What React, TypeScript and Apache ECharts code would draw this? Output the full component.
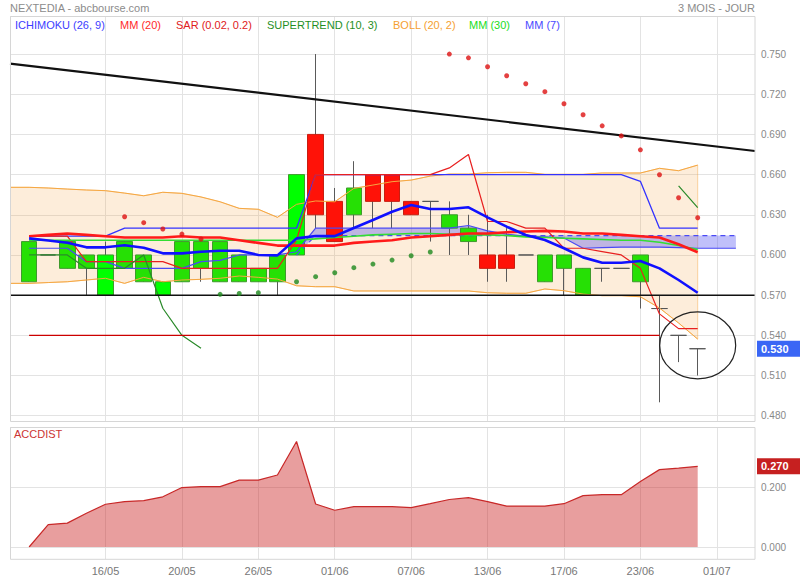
import React, { useEffect, useRef } from 'react';
import * as echarts from 'echarts';

const _ = null;
const FONT = 'Arial, "Liberation Sans", sans-serif';
const GRID_C = '#e3e3e3';

// category axis: one slot per trading day (first and last slots are margins)
const dates = ['09/05','10/05','11/05','12/05','13/05','16/05','17/05','18/05','19/05','20/05','23/05','24/05','25/05','26/05','27/05','30/05','31/05','01/06','02/06','03/06','06/06','07/06','08/06','09/06','10/06','13/06','14/06','15/06','16/06','17/06','20/06','21/06','22/06','23/06','24/06','27/06','28/06','01/07','04/07','05/07'];

// candles start on dates[1]
const firstCandle = 1;
const opens  = [0.58,0.60,0.59,0.59,0.57,0.59,0.58,0.57,0.58,0.59,0.58,0.58,0.58,0.58,0.60,0.69,0.64,0.63,0.66,0.66,0.64,0.64,0.62,0.61,0.60,0.60,0.60,0.58,0.59,0.57,0.59,0.59,0.58,0.56,0.54,0.53];
const closes = [0.61,0.60,0.61,0.60,0.60,0.61,0.60,0.58,0.61,0.61,0.61,0.60,0.59,0.60,0.66,0.63,0.61,0.65,0.64,0.64,0.63,0.64,0.63,0.62,0.59,0.59,0.60,0.60,0.60,0.59,0.59,0.59,0.60,0.56,0.54,0.53];
const lows   = [0.58,0.60,0.59,0.57,0.57,0.59,0.58,0.57,0.58,0.58,0.58,0.58,0.58,0.57,0.60,0.62,0.61,0.62,0.62,0.62,0.63,0.61,0.60,0.60,0.58,0.58,0.60,0.58,0.57,0.57,0.58,0.59,0.56,0.49,0.52,0.51];
const highs  = [0.61,0.60,0.61,0.60,0.61,0.61,0.60,0.58,0.61,0.61,0.61,0.60,0.59,0.60,0.66,0.75,0.65,0.67,0.66,0.66,0.64,0.64,0.64,0.63,0.63,0.62,0.60,0.60,0.60,0.59,0.59,0.59,0.60,0.57,0.54,0.53];
const brightCandles = ['16/05', '19/05', '30/05'];

// indicators, indexed like dates
const bollUpper = [0.6505,0.6505,0.65,0.6492,0.6485,0.648,0.6462,0.6442,0.6468,0.646,0.6433,0.6397,0.6348,0.6341,0.6281,0.6378,0.6403,0.6397,0.6497,0.6522,0.6547,0.6559,0.6589,0.6604,0.6604,0.6614,0.6617,0.6617,0.6602,0.6602,0.6602,0.6612,0.6612,0.6612,0.6647,0.6629,0.6671];
const bollLower = [0.5788,0.5788,0.5794,0.58,0.5813,0.5826,0.5788,0.5833,0.58,0.5813,0.5818,0.5826,0.5843,0.5833,0.582,0.577,0.5763,0.5763,0.5731,0.5731,0.5731,0.5731,0.5731,0.5731,0.5731,0.5718,0.5714,0.5714,0.5746,0.5733,0.5708,0.5696,0.5696,0.5688,0.5604,0.5492,0.5372];
const mm20 = [_,0.614,0.615,0.616,0.615,0.614,0.613,0.613,0.613,0.614,0.613,0.613,0.611,0.609,0.607,0.607,0.607,0.607,0.609,0.610,0.611,0.613,0.614,0.615,0.616,0.616,0.617,0.6175,0.618,0.6175,0.616,0.616,0.615,0.614,0.613,0.608,0.602];
const mm30 = [_,0.611,0.611,0.611,0.611,0.611,0.611,0.611,0.611,0.611,0.611,0.611,0.611,0.611,0.611,0.611,0.612,0.613,0.614,0.615,0.6155,0.616,0.616,0.6155,0.615,0.615,0.6145,0.6135,0.613,0.6125,0.612,0.6115,0.611,0.611,0.6095,0.607,0.604];
const mm7 = [_,0.6124,0.6108,0.6091,0.6057,0.6057,0.6072,0.6054,0.6012,0.6012,0.6024,0.6032,0.6032,0.600,0.5997,0.6124,0.6141,0.6141,0.6201,0.6261,0.6323,0.6373,0.6343,0.6343,0.6356,0.6281,0.6211,0.6149,0.6112,0.605,0.5982,0.5942,0.5942,0.5955,0.590,0.5813,0.5718];
const ichiKijun = [_,0.614,0.614,0.614,0.614,0.614,0.62,0.62,0.62,0.62,0.62,0.62,0.62,0.62,0.62,0.62,0.66,0.66,0.66,0.66,0.66,0.66,0.66,0.66,0.66,0.66,0.66,0.66,0.66,0.66,0.66,0.66,0.66,0.655,0.62,0.62,0.62];
const ichiTenkan = [_,0.614,0.614,0.614,0.595,0.595,0.595,0.595,0.595,0.59,0.59,0.59,0.59,0.59,0.59,0.611,0.66,0.66,0.66,0.66,0.66,0.66,0.66,0.665,0.675,0.625,0.625,0.62,0.62,0.605,0.605,0.6025,0.60,0.59,0.556,0.545,0.545];
const senkouB = [_,0.605,0.605,0.605,0.595,0.595,0.59,0.59,0.59,0.59,0.595,0.596,0.60,0.60,0.60,0.6024,0.62,0.62,0.62,0.62,0.62,0.62,0.62,0.62,0.622,0.618,0.6155,0.614,0.6135,0.6126,0.605,0.6055,0.6058,0.6058,0.6058,0.6055,0.605,0.605,0.605];
const senkouA = [_,_,_,_,_,_,_,_,_,_,_,_,_,_,_,0.60,0.6145,0.6145,0.6145,0.6145,0.6145,0.6145,0.6145,0.6145,0.6145,0.6145,0.6145,0.6145,0.6145,0.6145,0.6145,0.6145,0.6145,0.6145,0.6145,0.6145,0.6145,0.6145,0.6145];
const supertrend = [_,0.60,0.60,0.60,0.59,0.59,0.59,0.60,0.5602,0.54,0.5303,_,_,_,_,_,_,_,_,_,_,_,_,_,_,_,_,_,_,_,_,_,_,_,_,0.6516,0.6353];
const sarAbove = [_,_,_,_,_,_,0.6285,0.6241,0.6194,0.6156,0.6119,_,_,_,_,_,_,_,_,_,_,_,_,0.75,0.7472,0.7405,0.7338,0.7278,0.7219,0.7129,0.7047,0.6964,0.6889,0.6785,0.6599,0.6427,0.6278];
const sarBelow = [_,_,_,_,_,_,_,_,_,_,_,0.5706,0.5712,0.5718,_,0.58,0.5838,0.5867,0.5905,0.5932,0.5962,0.5994,0.6022];
const accdist = [_,0,0.075,0.08,0.113,0.143,0.152,0.155,0.168,0.199,0.202,0.202,0.224,0.224,0.241,0.353,0.144,0.123,0.135,0.135,0.135,0.132,0.145,0.159,0.165,0.152,0.137,0.137,0.137,0.145,0.172,0.175,0.175,0.219,0.259,0.264,0.270];

// drawn levels
const supportLevel = 0.57;
const resistLevel = 0.54;
const trendLine = [[0, 0.7429], [39, 0.6776]];
const circleNote = { day: '28/06', price: 0.5325, rx: 38, ry: 33.5 };

const legendItems = [
  { text: 'ICHIMOKU (26, 9)', x: 15, color: '#3d3dff' },
  { text: 'MM (20)', x: 120, color: '#ff2a2a' },
  { text: 'SAR (0.02, 0.2)', x: 176, color: '#e02020' },
  { text: 'SUPERTREND (10, 3)', x: 267, color: '#1f8f1f' },
  { text: 'BOLL (20, 2)', x: 393, color: '#f5a030' },
  { text: 'MM (30)', x: 469, color: '#22dd22' },
  { text: 'MM (7)', x: 525, color: '#4a4aff' },
];

const toLine = (a: (number | null)[]) => dates.map((_d, k) => (a[k] == null ? '-' : a[k]));
const toPoints = (a: (number | null)[]) =>
  a.map((v, k) => (v == null ? null : [k, v])).filter((p) => p !== null);
const labelInterval = (i: number) => i % 4 === 1 && i >= 5;
const lastClose = closes[closes.length - 1];
const lastAcc = accdist[accdist.length - 1] as number;

function buildOption(): any {
  const wickData: any[] = [];
  const bodyData: any[] = [];
  opens.forEach((o, i) => {
    const k = firstCandle + i;
    const c = closes[i];
    wickData.push([k, o, c, lows[i], highs[i]]);
    let fill = '#26e005', border = '#3f9a2c';
    if (c < o) { fill = '#ff1208'; border = '#c81e10'; }
    else if (c === o) { fill = '#555'; border = '#555'; }
    else if (brightCandles.includes(dates[k])) { fill = '#00ff00'; }
    bodyData.push({
      value: [k, o, c, Math.min(o, c), Math.max(o, c)],
      itemStyle: { color: fill, color0: fill, borderColor: border, borderColor0: border, borderWidth: 1 },
    });
  });

  const line = (name: string, data: (number | null)[], color: string, width: number) => ({
    type: 'line', name, data: toLine(data), xAxisIndex: 0, yAxisIndex: 0,
    symbol: 'none', showSymbol: false, connectNulls: false, silent: true, z: 3,
    lineStyle: { color, width },
    emphasis: { disabled: true },
  });
  const seg = (name: string, data: number[][], color: string, width: number) => ({
    type: 'line', name, data, xAxisIndex: 0, yAxisIndex: 0, symbol: 'none', silent: true, z: 4,
    lineStyle: { color, width }, emphasis: { disabled: true },
  });

  return {
    animation: false,
    backgroundColor: '#fff',
    textStyle: { fontFamily: FONT },
    grid: [
      { left: 10, right: 45, top: 16, bottom: 164.3 },
      { left: 10, right: 45, top: 427.5, bottom: 33 },
    ],
    xAxis: [
      {
        type: 'category', gridIndex: 0, data: dates, boundaryGap: false,
        axisLine: { show: false }, axisLabel: { show: false },
        axisTick: { show: true, length: 6, interval: labelInterval, lineStyle: { color: GRID_C } },
        splitLine: { show: true, interval: labelInterval, lineStyle: { color: GRID_C } },
      },
      {
        type: 'category', gridIndex: 1, data: dates, boundaryGap: false,
        axisLine: { show: false },
        axisLabel: { interval: labelInterval, margin: 18, color: '#777', fontSize: 11, fontFamily: FONT },
        axisTick: { show: true, length: 12, interval: labelInterval, lineStyle: { color: GRID_C } },
        splitLine: { show: true, interval: labelInterval, lineStyle: { color: GRID_C } },
      },
    ],
    yAxis: [
      {
        type: 'value', gridIndex: 0, position: 'right', min: 0.48, max: 0.7784, interval: 0.03,
        axisLine: { show: false }, axisTick: { show: false },
        axisLabel: {
          margin: 6, color: '#888', fontSize: 10, fontFamily: FONT, showMaxLabel: false,
          formatter: (v: number) => (v > 0.751 ? '' : v.toFixed(3)),
        },
        splitLine: { lineStyle: { color: GRID_C } },
      },
      {
        type: 'value', gridIndex: 1, position: 'right', min: 0, max: 0.4, interval: 0.2,
        axisLine: { show: false }, axisTick: { show: false },
        axisLabel: {
          margin: 6, color: '#888', fontSize: 10, fontFamily: FONT, showMaxLabel: false,
          formatter: (v: number) => (v > 0.3 ? '' : v.toFixed(3)),
        },
        splitLine: { lineStyle: { color: GRID_C } },
      },
    ],
    series: [
      {
        type: 'custom', name: 'bollFill', xAxisIndex: 0, yAxisIndex: 0, silent: true, z: 1, clip: true,
        data: [[0, bollUpper[0]]], encode: { x: 0, y: 1 },
        renderItem: (_p: any, api: any) => {
          const up = bollUpper.map((v, k) => api.coord([k, v]));
          const lo = bollLower.map((v, k) => api.coord([k, v])).reverse();
          return {
            type: 'polygon', shape: { points: up.concat(lo) },
            style: { fill: 'rgba(246,166,72,0.2)', stroke: 'rgba(245,167,66,0.45)', lineWidth: 1 },
          };
        },
      },
      {
        type: 'custom', name: 'cloudFill', xAxisIndex: 0, yAxisIndex: 0, silent: true, z: 1, clip: true,
        data: [[15, 0.6]], encode: { x: 0, y: 1 },
        renderItem: (_p: any, api: any) => {
          const a: number[][] = [];
          const b: number[][] = [];
          senkouA.forEach((v, k) => {
            if (v != null && senkouB[k] != null) {
              a.push(api.coord([k, v]));
              b.push(api.coord([k, senkouB[k]]));
            }
          });
          return { type: 'polygon', shape: { points: b.concat(a.reverse()) }, style: { fill: 'rgba(80,80,240,0.36)' } };
        },
      },
      {
        type: 'candlestick', name: 'wicks', xAxisIndex: 0, yAxisIndex: 0, data: wickData,
        encode: { x: 0, y: [1, 2, 3, 4] }, barWidth: 1, silent: true, z: 2,
        itemStyle: { color: '#5a5a5a', color0: '#5a5a5a', borderColor: '#5a5a5a', borderColor0: '#5a5a5a', borderWidth: 1 },
      },
      {
        type: 'candlestick', name: 'NEXTEDIA', xAxisIndex: 0, yAxisIndex: 0, data: bodyData,
        encode: { x: 0, y: [1, 2, 3, 4] }, barWidth: 16, silent: true, z: 2,
      },
      line('BOLL upper', bollUpper, '#f5a742', 1),
      line('BOLL lower', bollLower, '#f5a742', 1),
      line('Senkou B', senkouB, '#4a4af5', 1.2),
      { ...line('Senkou A', senkouA, '#4a4af5', 1.2), lineStyle: { color: '#4a4af5', width: 1.2, type: [5, 4] } },
      line('Kijun', ichiKijun, '#3333ff', 1.3),
      line('Tenkan', ichiTenkan, '#e82020', 1.2),
      line('Supertrend', supertrend, '#2a8a2a', 1.2),
      line('MM30', mm30, '#33dd33', 1.6),
      line('MM20', mm20, '#ff1a1a', 2.6),
      line('MM7', mm7, '#1010ff', 2.6),
      seg('support', [[0, supportLevel], [dates.length - 1, supportLevel]], '#111', 1.5),
      seg('resist', [[1, resistLevel], [34, resistLevel]], '#cc0000', 1.4),
      seg('trend', trendLine, '#111', 2.2),
      {
        type: 'scatter', name: 'SAR', xAxisIndex: 0, yAxisIndex: 0, data: toPoints(sarAbove),
        symbolSize: 5, itemStyle: { color: '#dd1111' }, silent: true, z: 5,
      },
      {
        type: 'scatter', name: 'SAR below', xAxisIndex: 0, yAxisIndex: 0, data: toPoints(sarBelow),
        symbolSize: 5, itemStyle: { color: '#1d881d' }, silent: true, z: 5,
      },
      {
        type: 'line', name: 'ACCDIST', xAxisIndex: 1, yAxisIndex: 1, data: toLine(accdist),
        symbol: 'none', silent: true, z: 3,
        lineStyle: { color: '#c82828', width: 1.2 },
        areaStyle: { color: 'rgba(200,25,25,0.6)' },
      },
    ],
  };
}

function buildGraphic(c: number[], yClose: number, yAcc: number): any[] {
  const txt = (text: string, x: number, y: number, fill: string, extra: any = {}) => ({
    type: 'text', x, y, silent: true, z: 20,
    style: { text, fill, fontSize: 11, fontFamily: FONT, verticalAlign: 'middle', align: 'left', ...extra },
  });
  const tag = (text: string, y: number, bg: string) => ({
    type: 'group', silent: true, z: 30,
    children: [
      { type: 'rect', shape: { x: 757, y: y - 8, width: 43, height: 16 }, style: { fill: bg } },
      {
        type: 'text', x: 761, y,
        style: { text, fill: '#fff', fontSize: 11, fontWeight: 'bold', fontFamily: FONT, verticalAlign: 'middle', align: 'left' },
      },
    ],
  });
  return [
    { type: 'rect', silent: true, z: 10, shape: { x: 10.5, y: 16.5, width: 744.5, height: 405 }, style: { fill: 'none', stroke: '#d6d6d6', lineWidth: 1 } },
    { type: 'rect', silent: true, z: 10, shape: { x: 10.5, y: 427.5, width: 744.5, height: 131.8 }, style: { fill: 'none', stroke: '#d6d6d6', lineWidth: 1 } },
    txt('NEXTEDIA - abcbourse.com', 10, 8, '#8c8c8c'),
    txt('3 MOIS - JOUR', 755, 8, '#8c8c8c', { align: 'right' }),
    ...legendItems.map((l) => txt(l.text, l.x, 25, l.color)),
    txt('ACCDIST', 14, 434, '#cc3333'),
    tag(lastClose.toFixed(3), yClose, '#3a66f5'),
    tag(lastAcc.toFixed(3), yAcc, '#c62020'),
    {
      type: 'ellipse', silent: true, z: 100,
      shape: { cx: c[0], cy: c[1], rx: circleNote.rx, ry: circleNote.ry },
      style: { fill: 'none', stroke: '#222', lineWidth: 1.2 },
    },
  ];
}

export default function App() {
  const ref = useRef<HTMLDivElement>(null);
  useEffect(() => {
    if (!ref.current) return;
    const chart = echarts.init(ref.current, null, { renderer: 'svg' });
    chart.setOption(buildOption());
    const c = chart.convertToPixel({ gridIndex: 0 }, [circleNote.day, circleNote.price]) as number[];
    const yClose = chart.convertToPixel({ yAxisIndex: 0 }, lastClose) as number;
    const yAcc = chart.convertToPixel({ yAxisIndex: 1 }, lastAcc) as number;
    chart.setOption({ graphic: buildGraphic(c, yClose, yAcc) });
    return () => chart.dispose();
  }, []);
  return (
    <div
      ref={ref}
      style={{ position: 'fixed', left: 0, top: 0, width: 800, height: 580, background: '#fff' }}
    />
  );
}
